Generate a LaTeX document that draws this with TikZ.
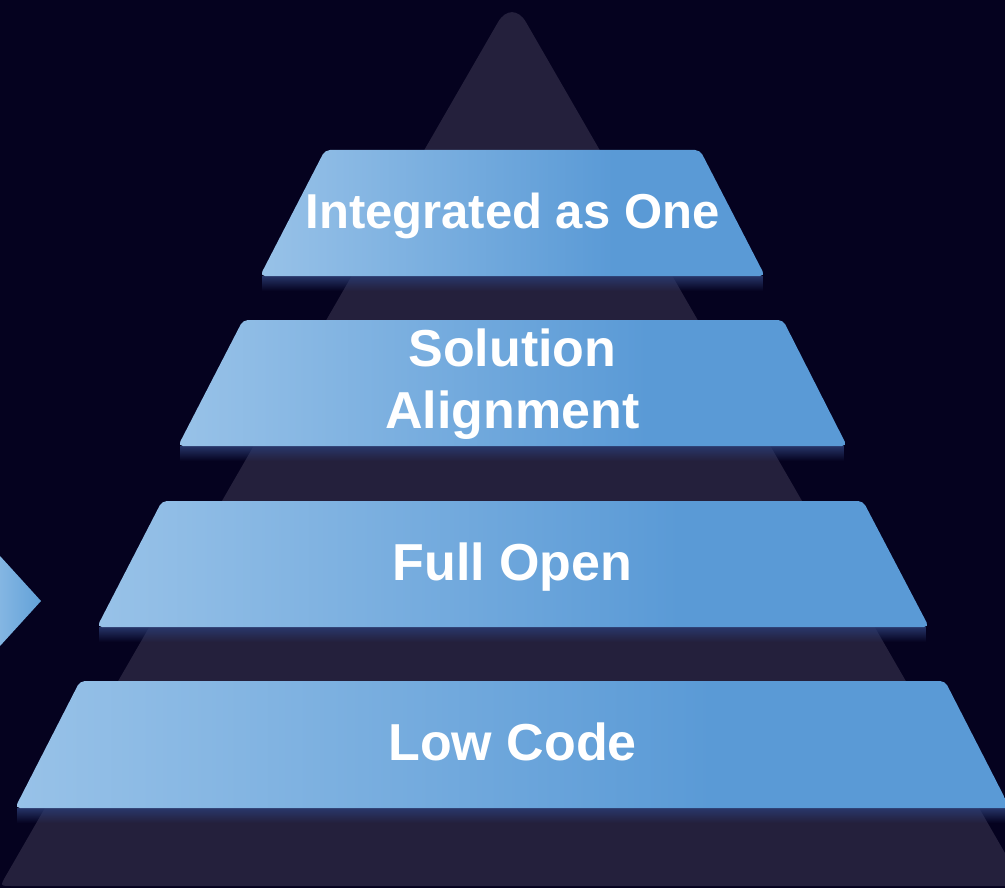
\documentclass[tikz,border=0pt]{standalone}
\usepackage{fontspec}
\setmainfont{Liberation Sans}
\usetikzlibrary{fadings}
\definecolor{bgc}{HTML}{05021F}
\definecolor{pyr}{HTML}{24203C}
\definecolor{tl}{HTML}{98C2E8}
\definecolor{tr}{HTML}{5A9AD6}
\definecolor{glowc}{HTML}{2A3A70}
\definecolor{al}{HTML}{8CBBE5}
\definecolor{ar}{HTML}{62A1D8}
\pgfdeclarehorizontalshading{trapshade}{100bp}{color(0bp)=(tl); color(25bp)=(tl); color(60bp)=(tr); color(100bp)=(tr)}
\tikzset{
  trap/.style={shading=trapshade, rounded corners=5pt},
  lbl/.style={text=white, font=\bfseries\fontsize{52}{62}\selectfont, align=center, anchor=base, inner sep=0pt},
  glow/.style={fill=glowc, path fading=south, fill opacity=0.9},
}
\begin{document}
\begin{tikzpicture}[x=1pt,y=-1pt]
\useasboundingbox (0,0) rectangle (1005,888);
\clip (0,0) rectangle (1005,888);
\fill[bgc] (0,0) rectangle (1005,888);
% pyramid
\fill[pyr] (12,886) .. controls (0,886) .. (6,875.6) -- (498,22.2)
  .. controls (505.7,8.8) and (518.3,8.8) .. (526,22.2) -- (1018,875.6)
  .. controls (1024,886) .. (1012,886) -- cycle;
% left arrow
\shade[left color=al, right color=ar] (-10,545) -- (41,601) -- (-10,657) -- cycle;
% glows
\fill[glow] (262,276) rectangle (763,291);
\fill[glow] (180,446) rectangle (845,461);
\fill[glow] (99,627) rectangle (927,642);
\fill[glow] (17,808) rectangle (1008,823);
% trapezoids
\shade[trap] (325,150) -- (700,150) -- (765,276) -- (260,276) -- cycle;
\shade[trap] (243,320) -- (783,320) -- (847,446) -- (178,446) -- cycle;
\shade[trap] (162,501) -- (863,501) -- (929,627) -- (97,627) -- cycle;
\shade[trap] (80,681) -- (945,681) -- (1010,808) -- (15,808) -- cycle;
% labels
\node[lbl, font=\bfseries\fontsize{49}{60}\selectfont] (l1) at (512.5,229) {Integrated as One};
\node[lbl] (l2) at (512.5,428) {Solution\\Alignment};
\node[lbl] (l3) at (512.5,580) {Full Open};
\node[lbl] (l4) at (512.5,760) {Low Code};
\end{tikzpicture}
\end{document}
